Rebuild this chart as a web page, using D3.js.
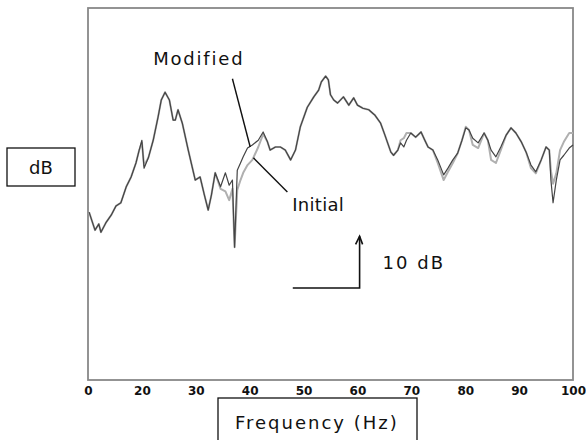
<!DOCTYPE html>
<html>
<head>
<meta charset="utf-8">
<script src="https://cdn.jsdelivr.net/npm/d3@7"></script>
<style>
  body { margin: 0; background: #fff; }
  text { font-family: "DejaVu Sans", sans-serif; fill: #111; }
</style>
</head>
<body>
<div id="chart-container"></div>
<script>
// Frequency (Hz) sample points
const freqs = [10.2, 11.3, 12.0, 12.4, 13.3, 14.3, 15.2, 16.1, 17.1, 18.0, 18.9, 19.5, 20.0, 20.4, 21.2,
  22.1, 23.0, 23.6, 24.3, 25.1, 25.8, 26.2, 26.7, 27.5, 28.6, 29.9, 30.8, 31.6, 32.3, 32.9, 33.6,
  34.6, 35.5, 36.2, 36.8, 37.2, 37.7, 38.3, 38.8, 39.6, 40.5, 41.6, 42.5, 43.3, 43.8, 44.8, 45.7,
  46.6, 47.6, 48.5, 49.4, 50.7, 51.9, 52.8, 53.3, 54.1, 54.6, 55.0, 55.6, 56.3, 57.4, 58.4, 59.3,
  60.0, 61.0, 62.1, 63.2, 64.3, 65.1, 65.6, 66.2, 66.7, 67.5, 68.0, 68.6, 69.1, 69.9, 70.8, 71.8,
  72.5, 73.1, 74.0, 74.9, 76.0, 76.8, 77.7, 78.6, 79.4, 80.1, 80.7, 81.4, 82.4, 83.5, 84.2, 84.8,
  85.7, 86.6, 87.6, 88.5, 89.4, 90.4, 91.3, 92.2, 93.1, 94.1, 95.0, 95.6, 95.9, 96.3, 96.9, 97.6,
  98.3, 99.3, 100.0];

// Relative levels (dB)
const modified = [32.5, 29.0, 30.2, 28.6, 30.4, 31.9, 33.7, 34.3, 37.4, 39.3, 42.0, 44.5, 46.4, 41.0, 43.0,
  46.4, 50.9, 54.2, 55.7, 54.2, 50.3, 50.3, 52.3, 49.7, 44.5, 38.7, 39.3, 35.8, 32.9, 35.8, 40.1,
  37.4, 40.1, 37.7, 38.7, 25.7, 40.6, 42.0, 43.2, 44.9, 45.5, 46.4, 48.0, 46.1, 44.5, 45.1, 45.1,
  44.5, 42.6, 44.5, 49.0, 52.8, 54.8, 56.1, 57.7, 58.8, 58.1, 55.2, 54.2, 53.6, 54.8, 53.2, 54.6,
  53.2, 52.6, 52.3, 51.3, 49.7, 47.4, 45.9, 44.1, 43.5, 44.5, 45.9, 45.1, 46.4, 47.8, 47.0, 48.0,
  46.4, 45.1, 44.5, 42.6, 39.7, 41.0, 42.6, 43.9, 46.4, 48.8, 48.4, 46.8, 45.9, 47.8, 46.4, 44.5,
  43.2, 45.1, 47.4, 48.8, 47.8, 46.1, 44.1, 41.6, 40.3, 42.6, 45.1, 44.5, 38.7, 34.3, 38.7, 42.6,
  43.5, 44.9, 45.5];

const initial = [32.5, 29.0, 30.2, 28.6, 30.4, 31.9, 33.7, 34.3, 37.4, 39.3, 42.0, 44.5, 46.0, 41.5, 43.0,
  46.4, 50.9, 54.2, 55.7, 54.2, 50.3, 50.3, 52.3, 49.7, 44.5, 38.7, 39.3, 35.8, 32.9, 35.8, 40.1,
  37.0, 36.5, 34.8, 37.0, 25.7, 36.8, 38.7, 40.1, 41.6, 42.6, 45.1, 47.6, 46.1, 44.5, 45.1, 45.1,
  44.5, 42.6, 44.5, 49.0, 52.8, 54.8, 56.1, 57.7, 58.8, 58.1, 55.2, 54.2, 53.6, 54.8, 53.2, 54.6,
  53.2, 52.6, 52.3, 51.3, 49.7, 47.4, 45.9, 44.1, 43.5, 44.5, 46.4, 46.8, 47.8, 47.8, 47.0, 48.0,
  46.4, 45.1, 44.5, 42.0, 38.7, 40.3, 42.0, 43.9, 46.4, 49.0, 48.4, 45.5, 44.9, 47.8, 46.4, 42.6,
  42.0, 44.5, 47.4, 48.8, 47.8, 46.1, 44.1, 41.0, 40.0, 42.6, 45.1, 44.5, 40.5, 38.0, 40.0, 44.5,
  46.1, 47.8, 47.8];

const tickValues = [10, 20, 30, 40, 50, 60, 70, 80, 90, 100];
const tickLabels = ["0", "20", "30", "40", "50", "60", "70", "80", "90", "100"];

const width = 586;
const height = 440;
const marginTop = 8;
const marginRight = 13;
const marginBottom = 60;
const marginLeft = 88;

const x = d3.scaleLinear()
  .domain([10, 100])
  .range([marginLeft, width - marginRight]);

const y = d3.scaleLinear()
  .domain([0, 72])
  .range([height - marginBottom, marginTop]);

const line = d3.line()
  .x(d => x(d[0]))
  .y(d => y(d[1]));

const svg = d3.create("svg")
  .attr("width", width)
  .attr("height", height)
  .attr("viewBox", [0, 0, width, height]);

// plot frame
svg.append("rect")
  .attr("x", marginLeft)
  .attr("y", marginTop)
  .attr("width", width - marginRight - marginLeft)
  .attr("height", height - marginBottom - marginTop)
  .attr("fill", "none")
  .attr("stroke", "#888")
  .attr("stroke-width", 1.8);

// x axis tick labels
const xAxis = svg.append("g")
  .attr("transform", `translate(0,${height - marginBottom})`)
  .call(d3.axisBottom(x).tickValues(tickValues).tickSize(0).tickPadding(6)
    .tickFormat((d, i) => tickLabels[i]))
  .call(g => g.select(".domain").remove());
xAxis.selectAll("text")
  .attr("font-family", "DejaVu Sans")
  .attr("font-size", 12)
  .attr("font-weight", "bold")
  .attr("fill", "#666");

// series
svg.append("path")
  .attr("d", line(d3.zip(freqs, initial)))
  .attr("fill", "none")
  .attr("stroke", "#b0b0b0")
  .attr("stroke-width", 2)
  .attr("stroke-linejoin", "round");

svg.append("path")
  .attr("d", line(d3.zip(freqs, modified)))
  .attr("fill", "none")
  .attr("stroke", "#444")
  .attr("stroke-width", 1.2)
  .attr("stroke-linejoin", "round");

// labels with leader lines
const notes = [
  { text: "Modified", tx: 22.1, ty: 61.0, ls: 1.8, from: [36.8, 58.3], to: [40.1, 45.1] },
  { text: "Initial", tx: 47.9, ty: 32.7, ls: 0.3, from: [47.0, 36.4], to: [40.7, 43.0] }
];
notes.forEach(n => {
  svg.append("line")
    .attr("x1", x(n.from[0])).attr("y1", y(n.from[1]))
    .attr("x2", x(n.to[0])).attr("y2", y(n.to[1]))
    .attr("stroke", "#111")
    .attr("stroke-width", 1.4);
  svg.append("text")
    .attr("x", x(n.tx))
    .attr("y", y(n.ty))
    .attr("font-size", 18)
    .attr("letter-spacing", n.ls)
    .text(n.text);
});

// 10 dB scale bar
const bar = { f0: 48.0, f1: 60.4, db0: 17.8, span: 10 };
svg.append("path")
  .attr("d", `M${x(bar.f0)},${y(bar.db0)}H${x(bar.f1)}V${y(bar.db0 + bar.span)}`)
  .attr("fill", "none")
  .attr("stroke", "#111")
  .attr("stroke-width", 1.6);
svg.append("path")
  .attr("d", `M${x(bar.f1) - 4},${y(bar.db0 + bar.span) + 8}L${x(bar.f1)},${y(bar.db0 + bar.span)}L${x(bar.f1) + 3},${y(bar.db0 + bar.span) + 8}`)
  .attr("fill", "none")
  .attr("stroke", "#111")
  .attr("stroke-width", 1.6);
svg.append("text")
  .attr("x", x(bar.f1) + 23)
  .attr("y", y(bar.db0 + bar.span / 2) + 7)
  .attr("font-size", 18)
  .attr("letter-spacing", 2)
  .text("10 dB");

// boxed axis titles
svg.append("rect")
  .attr("x", 7).attr("y", 148).attr("width", 68).attr("height", 38)
  .attr("fill", "none").attr("stroke", "#111").attr("stroke-width", 1.3);
svg.append("text")
  .attr("x", 41).attr("y", 174)
  .attr("text-anchor", "middle")
  .attr("font-size", 18)
  .text("dB");

svg.append("rect")
  .attr("x", 218).attr("y", 398).attr("width", 199).attr("height", 50)
  .attr("fill", "none").attr("stroke", "#111").attr("stroke-width", 1.3);
svg.append("text")
  .attr("x", 235).attr("y", 429)
  .attr("font-size", 18)
  .attr("letter-spacing", 2)
  .text("Frequency (Hz)");

document.getElementById("chart-container").appendChild(svg.node());
</script>
</body>
</html>
